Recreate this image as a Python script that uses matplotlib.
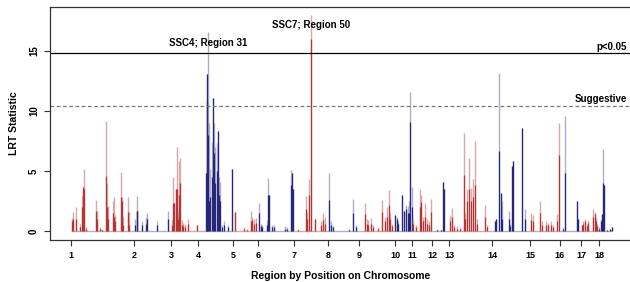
import matplotlib
matplotlib.use("Agg")
import matplotlib.pyplot as plt

plt.rcParams['font.family'] = ['Liberation Sans', 'DejaVu Sans']
plt.rcParams['font.weight'] = 'bold'
plt.rcParams['axes.labelweight'] = 'bold'

# chromosome start positions (region scale) and labels
chrom_labels = [str(i) for i in range(1, 19)]
chrom_start = [0, 63, 100, 127, 162, 187, 223, 257, 288, 324, 341, 361, 378,
               421, 459, 489, 510, 528]
chrom_end = 541

# peak positions and LRT values per chromosome (light = all, dark = overlay)
peak_pos = [
    [0.7, 2.3, 4.7, 9, 11.3, 12.3, 13, 15, 25, 26, 29, 30.7, 35, 36.3, 37.3,
     42.3, 43.3, 44.3, 49.7, 50.7, 51.7, 57.3, 58.3],
    [64, 65.7, 66.3, 70.7, 74.7, 75.7, 85.7, 97.3],
    [100.7, 102, 102.7, 104.7, 105.7, 106.7, 108, 109, 110.7, 112.3, 114, 117.3, 125.7],
    [134.7, 135.7, 136.3, 137.3, 138.3, 139.3, 141, 142.3, 143.3, 144.3, 145.7,
     146.7, 147.7, 149, 150.7, 153, 156.7, 161],
    [164, 173.3, 175.7, 180, 181.3, 183.3, 184.7],
    [188.3, 189.7, 190.7, 195.7, 197.3, 198.3, 200.7, 203, 214, 215.7, 219.7, 221, 222],
    [226.7, 235, 236.3, 238, 239.7, 244, 249.7, 252.3, 254.3],
    [258, 259.7, 261.7, 278.3, 281.7, 285],
    [294, 295.7, 297.3, 300, 302.3, 307.3, 311.3, 314, 315.7, 318, 319, 320.7],
    [324, 325.7, 327.3, 330.7, 333.3, 335, 336.7, 338, 339, 340.7],
    [342.3, 345, 349, 350, 351.7, 354, 355.7, 358, 360],
    [365.7, 369.7, 372.3, 373.3],
    [379, 381.3, 383, 385.7, 389, 393, 394, 395.7, 398.3, 399.7, 401.7, 404,
     405.7, 414, 415.7],
    [424, 425, 428.3, 429.7, 430.7, 438.3, 439, 441.3, 442.3, 450.7, 454],
    [459.7, 461.7, 469, 470.7, 474.7, 477.3, 479.7, 482.3, 486.3, 488.3],
    [491.7, 494, 505.7, 506.7],
    [510.7, 512.3, 514, 515.7, 517.3, 522.3, 524, 525, 526.3],
    [528.3, 530, 531, 531.7, 532.7, 535.7, 539, 540.7],
]
lrt_light = [
    [1.1, 1.6, 2.0, 0.6, 2.9, 3.7, 5.2, 0.3, 2.6, 1.7, 0.3, 0.2, 9.2, 4.0, 2.1,
     2.5, 2.8, 1.3, 4.9, 2.8, 1.2, 2.8, 1.6],
    [1.0, 2.9, 1.7, 0.8, 1.2, 1.5, 0.8, 1.7],
    [0.9, 4.5, 2.3, 3.5, 7.0, 1.6, 5.8, 6.1, 0.9, 0.7, 0.6, 1.0, 0.5],
    [4.8, 10.8, 13.1, 16.6, 9.0, 5.2, 7.4, 11.1, 9.0, 7.0, 7.3, 8.3, 4.5, 4.1,
     0.5, 0.8, 0.5, 5.2],
    [1.6, 0.3, 0.2, 1.7, 1.2, 1.0, 1.1],
    [2.3, 0.6, 0.5, 0.9, 4.4, 3.0, 0.5, 0.5, 0.4, 0.3, 5.1, 4.8, 3.5],
    [0.2, 2.9, 1.6, 4.3, 18.0, 1.0, 0.8, 1.5, 1.2],
    [4.8, 0.8, 0.4, 0.2, 2.7, 0.5],
    [2.3, 1.0, 0.9, 1.1, 0.5, 0.3, 2.6, 1.2, 2.0, 3.4, 1.5, 0.6],
    [1.3, 1.2, 0.8, 3.0, 1.7, 2.2, 2.1, 2.5, 11.6, 3.7],
    [1.0, 0.5, 3.5, 3.0, 1.2, 2.3, 1.0, 0.8, 2.7],
    [0.2, 0.1, 4.1, 3.5],
    [1.3, 1.9, 0.5, 0.4, 0.3, 8.2, 1.5, 3.5, 6.1, 3.6, 4.3, 7.5, 1.0, 2.2, 0.5],
    [0.8, 1.0, 13.2, 3.2, 2.5, 1.7, 0.6, 5.4, 5.8, 8.6, 1.8],
    [1.5, 1.3, 2.5, 0.8, 0.8, 0.7, 0.8, 0.5, 1.4, 9.0],
    [0.3, 9.6, 2.5, 1.0],
    [0.5, 0.8, 1.0, 0.6, 0.9, 1.8, 1.6, 1.1, 0.6],
    [0.3, 1.0, 1.4, 6.8, 3.8, 0.1, 0.2, 0.3],
]
lrt_dark = [
    [0.8, 1.0, 1.0, 0.3, 2.0, 3.7, 3.5, 0.2, 1.7, 1.0, 0.2, 0.1, 4.6, 2.0, 1.0,
     1.5, 1.2, 0.8, 2.8, 2.5, 0.5, 1.6, 0.5],
    [0.5, 1.7, 1.7, 0.5, 0.6, 1.0, 0.5, 1.0],
    [0.5, 2.3, 2.3, 3.5, 3.5, 1.0, 3.0, 4.0, 0.5, 0.4, 0.3, 0.6, 0.5],
    [4.8, 10.8, 13.1, 8.0, 2.5, 2.8, 4.5, 11.1, 6.5, 4.0, 5.0, 8.3, 3.0, 2.5,
     0.3, 0.5, 0.3, 5.2],
    [1.6, 0.2, 0.1, 0.8, 0.9, 0.6, 0.7],
    [1.5, 0.4, 0.3, 0.5, 3.0, 3.0, 0.3, 0.3, 0.2, 0.2, 3.8, 4.8, 3.5],
    [0.1, 1.8, 1.0, 3.0, 16.0, 1.0, 0.5, 0.9, 0.6],
    [2.6, 0.5, 0.3, 0.1, 1.5, 0.3],
    [1.4, 0.6, 0.5, 0.6, 0.3, 0.2, 1.6, 0.8, 1.2, 2.2, 1.0, 0.4],
    [1.3, 1.0, 0.6, 3.0, 1.7, 1.8, 1.5, 1.5, 9.1, 2.0],
    [0.6, 0.3, 2.0, 2.4, 0.8, 1.2, 0.6, 0.5, 1.6],
    [0.1, 0.1, 4.1, 3.5],
    [0.8, 1.2, 0.3, 0.2, 0.2, 4.7, 1.0, 2.5, 3.5, 2.5, 2.8, 3.8, 0.6, 1.2, 0.3],
    [0.8, 1.0, 6.7, 3.2, 1.0, 1.0, 0.4, 5.4, 5.8, 8.6, 1.0],
    [0.9, 0.8, 1.5, 0.5, 0.5, 0.5, 0.5, 0.3, 0.8, 6.3],
    [0.2, 4.8, 2.5, 1.0],
    [0.5, 0.6, 0.8, 0.4, 0.7, 1.2, 1.4, 0.8, 0.4],
    [0.2, 0.8, 1.4, 4.0, 3.8, 0.1, 0.2, 0.3],
]

sig_line = 14.8
sugg_line = 10.45

light_cols = ['#d6aaaa', '#aeaecb']
dark_cols = ['#b63434', '#26267a']

fig = plt.figure(figsize=(6.3, 2.82), dpi=100)
ax = fig.add_axes([50/630, 42/282, 582/630, 233/282])

ends = chrom_start[1:] + [chrom_end]
for i in range(len(chrom_start)):
    k = i % 2
    ax.hlines(0, chrom_start[i], ends[i], color=light_cols[k], lw=1.0)
    ax.vlines(peak_pos[i], 0, lrt_light[i], color=light_cols[k], lw=1.0)
    ax.vlines(peak_pos[i], 0, lrt_dark[i], color=dark_cols[k], lw=0.9)

ax.axhline(sig_line, color='black', lw=0.9)
ax.axhline(sugg_line, color='#777777', lw=0.9, ls=(0, (3, 2)))
ax.text(556, sig_line + 0.15, 'p<0.05', ha='right', va='bottom', fontsize=7)
ax.text(556, sugg_line + 0.15, 'Suggestive', ha='right', va='bottom', fontsize=7)
ax.text(137, 15.7, 'SSC4; Region 31', ha='center', va='center', fontsize=7)
ax.text(240, 17.2, 'SSC7; Region 50', ha='center', va='center', fontsize=7)

ax.set_xlim(-21, 561)
ax.set_ylim(-0.75, 18.67)
ax.set_xticks(chrom_start)
ax.set_xticklabels(chrom_labels, fontsize=6.5)
ax.set_yticks([0, 5, 10, 15])
ax.set_yticklabels(['0', '5', '10', '15'], fontsize=7, rotation=90, va='center')
ax.tick_params(axis='both', length=4, width=0.8, color='#333333', pad=4)
ax.set_ylabel('LRT Statistic', fontsize=7.5, labelpad=7)
ax.set_xlabel('Region by Position on Chromosome', fontsize=7.5, labelpad=8)
for s in ['left', 'bottom', 'top']:
    ax.spines[s].set_color('#333333')
    ax.spines[s].set_linewidth(0.9)
ax.spines['right'].set_visible(False)

fig.savefig('out.png', dpi=100)
